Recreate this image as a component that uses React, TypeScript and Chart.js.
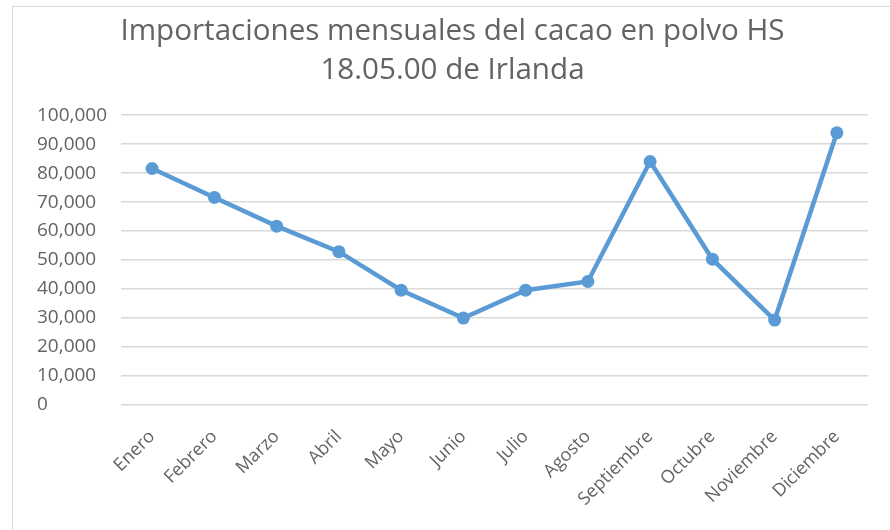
import React, { useEffect, useRef } from "react";
import { Chart, registerables } from "chart.js";

Chart.register(...registerables);

const titleLines = ["Importaciones mensuales del cacao en polvo HS", "18.05.00 de Irlanda"];
const months = [
  "Enero", "Febrero", "Marzo", "Abril", "Mayo", "Junio",
  "Julio", "Agosto", "Septiembre", "Octubre", "Noviembre", "Diciembre",
];
const imports = [81600, 71600, 61700, 52900, 39600, 30000, 39600, 42600, 84000, 50300, 29300, 93900];
const yMin = 0;
const yMax = 100000;
const yStep = 10000;

const FONT = "'Open Sans', sans-serif";
const GRAY = "#636363";
const BLUE = "#5B9BD5";

export default function App() {
  const ref = useRef<HTMLCanvasElement | null>(null);

  useEffect(() => {
    document.body.style.margin = "0";
    const canvas = ref.current;
    if (!canvas) return;
    const chart = new Chart(canvas, {
      type: "line",
      data: {
        labels: months,
        datasets: [
          {
            data: imports,
            borderColor: BLUE,
            backgroundColor: BLUE,
            borderWidth: 4.5,
            pointRadius: 6.5,
            pointHoverRadius: 6.5,
            pointBackgroundColor: BLUE,
            pointBorderWidth: 0,
            tension: 0,
          },
        ],
      },
      options: {
        responsive: false,
        animation: false,
        layout: { padding: { left: 37, right: 22, top: 12, bottom: 0 } },
        plugins: {
          legend: { display: false },
          tooltip: { enabled: false },
          title: {
            display: true,
            text: titleLines,
            color: GRAY,
            font: { family: FONT, size: 29.6, weight: "normal", lineHeight: 1.32 },
            padding: { top: 0, bottom: 25 },
          },
        },
        scales: {
          x: {
            offset: true,
            grid: { display: false, drawTicks: false },
            border: { display: false },
            ticks: {
              color: GRAY,
              font: { family: FONT, size: 18 },
              minRotation: 45,
              maxRotation: 45,
              padding: 21,
              autoSkip: false,
            },
            afterFit: (s: any) => {
              s.height = 125;
            },
          },
          y: {
            min: yMin,
            max: yMax,
            grid: { color: "#d9d9d9", lineWidth: 1.5, drawTicks: false },
            border: { display: false },
            ticks: {
              stepSize: yStep,
              color: GRAY,
              font: { family: FONT, size: 19 },
              crossAlign: "far",
              padding: 12,
              callback: (v: any) => Number(v).toLocaleString("en-US"),
            },
            afterFit: (s: any) => {
              s.width = 84;
            },
          },
        },
      },
    });
    return () => chart.destroy();
  }, []);

  return (
    <div style={{ position: "relative", width: 890, height: 530, background: "#fff" }}>
      <div
        style={{
          position: "absolute",
          left: 12,
          top: 6,
          right: 0,
          bottom: 0,
          borderTop: "1px solid #d9d9d9",
          borderLeft: "1px solid #d9d9d9",
          pointerEvents: "none",
        }}
      />
      <canvas ref={ref} width={890} height={530} style={{ position: "absolute", left: 0, top: 0 }} />
    </div>
  );
}
